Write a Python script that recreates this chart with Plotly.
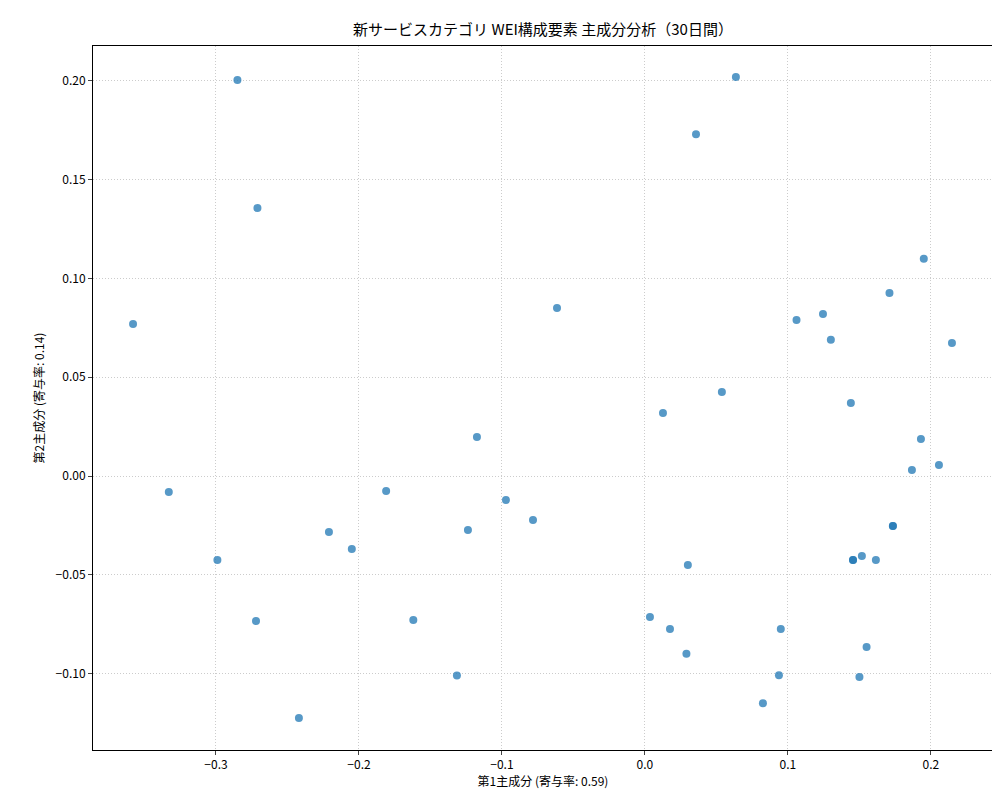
import plotly.graph_objects as go

pc1 = [-0.285, 0.0636, 0.0357, -0.271, 0.195, -0.358, 0.171, -0.0615, 0.106, 0.1245, 0.130, 0.2147,
       0.0538, 0.144, 0.0126, -0.1175, 0.193, 0.2056, 0.1867, -0.333, -0.181, -0.0972, -0.0783, -0.221,
       -0.1238, 0.1734, 0.1734, -0.205, -0.299, 0.1455, 0.1455, 0.1517, 0.1615, 0.030, 0.0035, -0.272,
       -0.162, 0.0175, 0.095, 0.155, 0.029, -0.1315, 0.0937, 0.150, 0.0825, -0.242]
pc2 = [0.2005, 0.202, 0.173, 0.1357, 0.110, 0.077, 0.0927, 0.085, 0.079, 0.082, 0.069, 0.0673,
       0.0425, 0.037, 0.0319, 0.0197, 0.0187, 0.0056, 0.003, -0.0081, -0.0076, -0.0122, -0.0223, -0.0284,
       -0.0273, -0.0253, -0.0253, -0.037, -0.0425, -0.0425, -0.0425, -0.0405, -0.0425, -0.045, -0.0714, -0.0734,
       -0.0729, -0.0775, -0.0775, -0.0866, -0.090, -0.101, -0.1008, -0.1018, -0.115, -0.1225]

FONT = "Noto Sans CJK JP"
fig = go.Figure(go.Scatter(x=pc1, y=pc2, mode="markers",
                           marker=dict(size=8, color="rgba(31,119,180,0.75)", line=dict(width=0))))
grid = dict(showgrid=True, gridcolor="#cccccc", griddash="1px,2px", gridwidth=1, zeroline=False,
            showline=True, linecolor="black", mirror=True, ticks="outside", ticklen=4,
            tickfont=dict(size=12, color="black"), automargin=False)
fig.update_layout(
    width=1000, height=800, plot_bgcolor="white", paper_bgcolor="white",
    font=dict(family=FONT, color="black"),
    margin=dict(l=85, r=15, t=38, b=58, autoexpand=False),
    title=dict(text="新サービスカテゴリ WEI構成要素 主成分分析（30日間）", x=0.535, xanchor="center",
               y=0.973, yanchor="middle", font=dict(size=15)),
    xaxis=dict(range=[-0.386, 0.2434], dtick=0.1, tickformat=".1f",
               title=dict(text="第1主成分 (寄与率: 0.59)", font=dict(size=12), standoff=6), **grid),
    yaxis=dict(range=[-0.1387, 0.2177], dtick=0.05, tickformat=".2f",
               title=dict(text="第2主成分 (寄与率: 0.14)", font=dict(size=12), standoff=8), **grid),
    showlegend=False,
)
fig.write_html("out.html")
